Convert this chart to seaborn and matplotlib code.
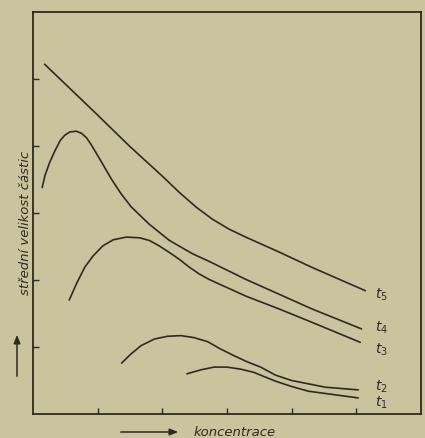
import matplotlib
matplotlib.use("Agg")
import matplotlib.pyplot as plt
import numpy as np
import pandas as pd
import seaborn as sns

# values (axis units = tick spacing, 0..6 on both axes)
t5_x = [0.18, 0.98, 1.49, 2.0, 2.26, 2.52, 2.77, 3.03, 3.29, 3.8, 4.31, 5.14]
t5_y = [5.22, 4.48, 4.0, 3.55, 3.31, 3.09, 2.91, 2.76, 2.64, 2.42, 2.19, 1.84]

t4_x = [0.143, 0.185, 0.26, 0.34, 0.42, 0.49, 0.57, 0.67, 0.75, 0.83, 0.90, 0.98,
        1.06, 1.21, 1.36, 1.52, 1.80, 2.11, 2.47, 2.72, 3.29, 3.8, 4.31, 5.08]
t4_y = [3.38, 3.56, 3.76, 3.93, 4.08, 4.16, 4.21, 4.22, 4.19, 4.12, 4.02, 3.89,
        3.76, 3.51, 3.29, 3.09, 2.83, 2.59, 2.39, 2.28, 2.01, 1.79, 1.57, 1.27]

t3_x = [0.56, 0.67, 0.80, 0.93, 1.08, 1.24, 1.44, 1.65, 1.80, 1.95, 2.11, 2.26,
        2.42, 2.57, 2.72, 3.29, 3.8, 4.31, 5.06]
t3_y = [1.70, 1.94, 2.19, 2.36, 2.51, 2.60, 2.64, 2.63, 2.59, 2.51, 2.41, 2.31,
        2.19, 2.09, 2.01, 1.76, 1.57, 1.37, 1.07]

t2_x = [1.37, 1.52, 1.67, 1.88, 2.08, 2.29, 2.49, 2.70, 2.90, 3.11, 3.31, 3.52,
        3.75, 4.0, 4.52, 5.03]
t2_y = [0.76, 0.90, 1.02, 1.12, 1.16, 1.17, 1.14, 1.08, 0.97, 0.87, 0.78, 0.70,
        0.58, 0.50, 0.40, 0.36]

t1_x = [2.38, 2.60, 2.80, 3.0, 3.21, 3.42, 3.57, 3.75, 4.0, 4.26, 5.03]
t1_y = [0.60, 0.66, 0.70, 0.70, 0.67, 0.62, 0.56, 0.49, 0.41, 0.34, 0.24]

curve_names = ["t1", "t2", "t3", "t4", "t5"]
label_y = [0.18, 0.42, 0.97, 1.30, 1.79]
label_x = 5.29

paper = "#cbc29e"
ink = "#2f2a1f"

frames = []
for name, xs, ys in zip(curve_names, [t1_x, t2_x, t3_x, t4_x, t5_x], [t1_y, t2_y, t3_y, t4_y, t5_y]):
    frames.append(pd.DataFrame({"konc": xs, "size": ys, "curve": name}))
df = pd.concat(frames, ignore_index=True)

sns.set_style("ticks", {"axes.facecolor": paper, "figure.facecolor": paper,
                        "axes.edgecolor": ink})
plt.rcParams["font.family"] = ["DejaVu Sans"]

fig = plt.figure(figsize=(4.25, 4.39), dpi=100)
ax = fig.add_axes([33 / 425, 1 - 415 / 439, (421 - 33) / 425, (415 - 13) / 439])

sns.lineplot(data=df, x="konc", y="size", hue="curve", units="curve", estimator=None,
             sort=False, palette=[ink] * 5, linewidth=1.2, legend=False, ax=ax)

for name, ly in zip(curve_names, label_y):
    ax.text(label_x, ly, "$t_{%s}$" % name[1], color=ink, fontsize=10,
            ha="left", va="center", style="italic")

ax.set_xlim(0, 6)
ax.set_ylim(0, 6)
ax.set_xticks([1, 2, 3, 4, 5])
ax.set_yticks([1, 2, 3, 4, 5])
ax.set_xticklabels([])
ax.set_yticklabels([])
ax.tick_params(direction="in", length=4, width=1, color=ink)
ax.set_xlabel("")
ax.set_ylabel("")
for sp in ax.spines.values():
    sp.set_linewidth(1.3)
    sp.set_color(ink)

# axis captions with arrows, as in the book figure
fig.text(26 / 425, 1 - 223 / 439, "střední velikost částic", rotation=90,
         ha="center", va="center", fontsize=9.5, style="italic", color=ink)
fig.text(235 / 425, 1 - 433 / 439, "koncentrace", ha="center", va="center",
         fontsize=9.5, style="italic", color=ink)
fig.patches.append(matplotlib.patches.FancyArrowPatch(
    (17 / 425, 1 - 380 / 439), (17 / 425, 1 - 333 / 439), transform=fig.transFigure,
    arrowstyle="-|>,head_length=5,head_width=2", color=ink, linewidth=1.1))
fig.patches.append(matplotlib.patches.FancyArrowPatch(
    (118 / 425, 1 - 433 / 439), (181 / 425, 1 - 433 / 439), transform=fig.transFigure,
    arrowstyle="-|>,head_length=5,head_width=2", color=ink, linewidth=1.1))

fig.savefig("out.png", dpi=100, facecolor=paper)
